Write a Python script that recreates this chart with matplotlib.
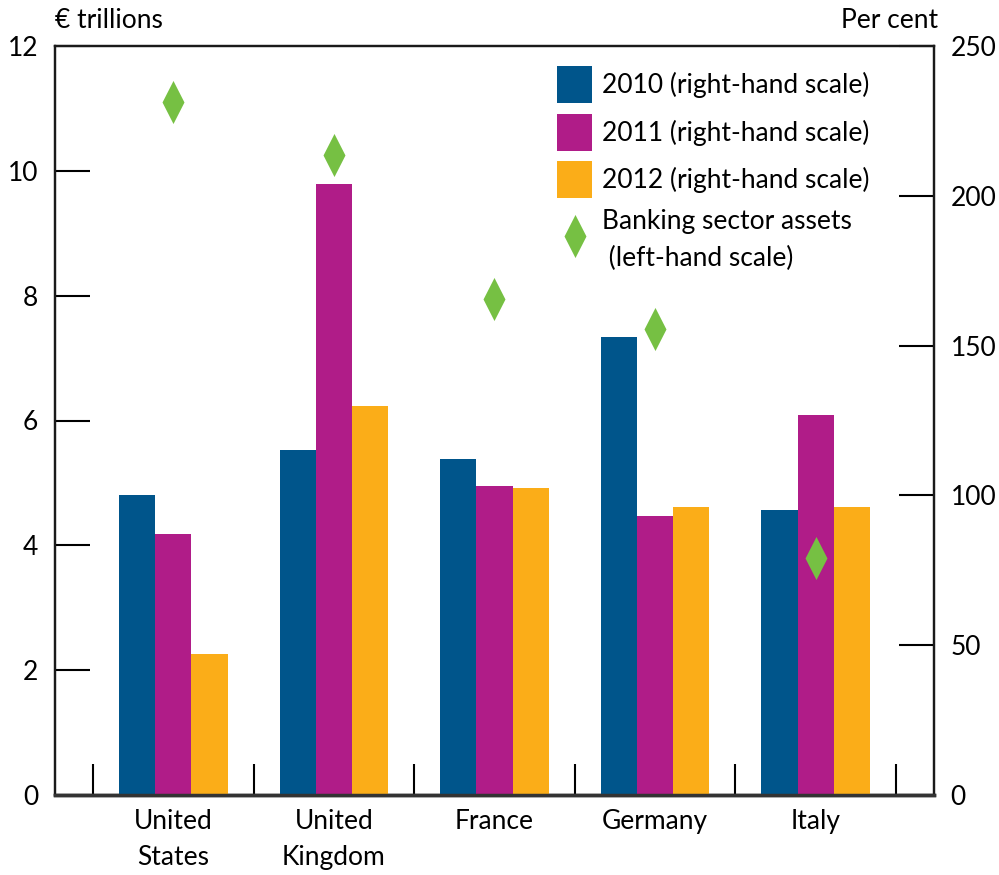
import matplotlib
matplotlib.use("Agg")
import matplotlib.pyplot as plt
import numpy as np
from matplotlib.patches import Patch
from matplotlib.lines import Line2D
from matplotlib.path import Path

plt.rcParams['font.family'] = ['Lato', 'DejaVu Sans']

countries = ["United\nStates", "United\nKingdom", "France", "Germany", "Italy"]
pct_2010 = [100, 115, 112, 153, 95]
pct_2011 = [87, 204, 103, 93, 127]
pct_2012 = [47, 130, 102.5, 96, 96]
bank_assets = [11.1, 10.25, 7.95, 7.46, 3.8]

year_labels = ["2010 (right-hand scale)", "2011 (right-hand scale)", "2012 (right-hand scale)"]
asset_label = "Banking sector assets\n (left-hand scale)"

c2010 = "#00558B"
c2011 = "#B01C88"
c2012 = "#FBAD18"
cgreen = "#76C043"

FS = 19

fig = plt.figure(figsize=(9.99, 8.75), dpi=100)
axL = fig.add_axes([55 / 999, 80 / 875, 879 / 999, 749 / 875])
axR = axL.twinx()

x = np.arange(len(countries))
w = 0.225
axR.bar(x - w, pct_2010, w, color=c2010, zorder=2)
axR.bar(x, pct_2011, w, color=c2011, zorder=2)
axR.bar(x + w, pct_2012, w, color=c2012, zorder=2)

# tall, narrow diamond marker
diamond = Path([(0, 1), (0.51, 0), (0, -1), (-0.51, 0), (0, 1)],
               [Path.MOVETO, Path.LINETO, Path.LINETO, Path.LINETO, Path.CLOSEPOLY])

# diamonds sit on the right axis (above the bars) but are given in left-axis units
axR.set_ylim(0, 250)
axL.set_ylim(0, 12)
scale = 250 / 12
axR.plot(x, np.array(bank_assets) * scale, linestyle='none', marker=diamond,
         markersize=31, color=cgreen, markeredgewidth=0, zorder=3)

xlim = (-0.737, len(countries) - 1 + 0.737)
axL.set_xlim(*xlim)
axR.set_xlim(*xlim)

axL.set_yticks(np.arange(0, 13, 2))
axR.set_yticks(np.arange(0, 251, 50))
axL.tick_params(axis='y', direction='in', length=25, width=1.5, labelsize=FS, pad=12)
axR.tick_params(axis='y', direction='in', length=25, width=1.5, labelsize=FS, pad=12)

axL.set_xticks(x)
axL.set_xticklabels(countries, fontsize=FS, linespacing=1.55)
axL.set_xticks(np.arange(-0.5, len(countries)), minor=True)
axL.tick_params(axis='x', which='major', length=0, pad=10)
axL.tick_params(axis='x', which='minor', direction='in', length=22, width=1.5)
axR.tick_params(axis='x', which='both', length=0)

for ax in (axL, axR):
    for side in ('left', 'right', 'top'):
        ax.spines[side].set_linewidth(1.6)
        ax.spines[side].set_color('#1a1a1a')
    ax.spines['bottom'].set_linewidth(2.5)
    ax.spines['bottom'].set_color('#333333')

fig.text(55 / 999, 1 - 20 / 875, "€ trillions", fontsize=FS, ha='left', va='center')
fig.text(938 / 999, 1 - 20 / 875, "Per cent", fontsize=FS, ha='right', va='center')

handles = [Patch(facecolor=c2010), Patch(facecolor=c2011), Patch(facecolor=c2012),
           Line2D([], [], linestyle='none', marker=diamond, markersize=31,
                  color=cgreen, markeredgewidth=0)]
leg = axR.legend(handles, year_labels + [asset_label], loc='upper left',
                 frameon=False, fontsize=FS,
                 handlelength=1.33, handleheight=1.78, handletextpad=0.38,
                 labelspacing=0.4, borderaxespad=0, borderpad=0)
leg.set_bbox_to_anchor((557 / 999, 1 - 66 / 875), transform=fig.transFigure)
leg.get_texts()[3].set_linespacing(1.6)

fig.savefig("out.png", dpi=100)
